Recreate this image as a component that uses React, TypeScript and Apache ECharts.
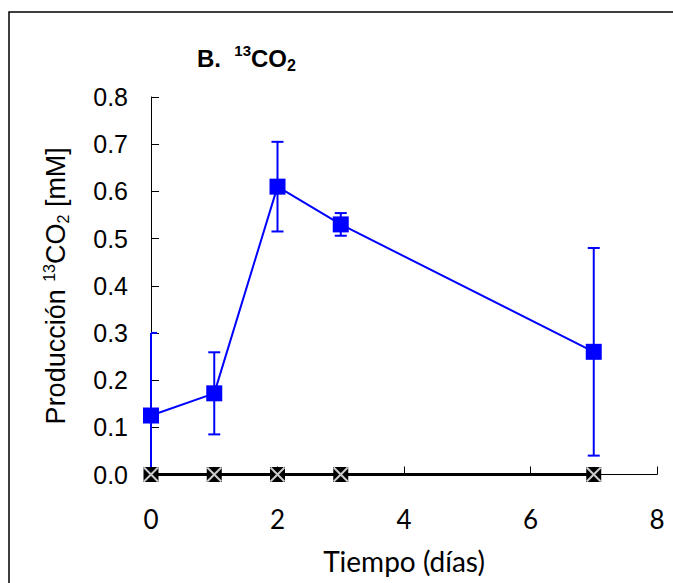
import React, { useEffect, useRef } from "react";
import * as echarts from "echarts";

const days = [0, 1, 2, 3, 7];
const co2Production = [0.125, 0.172, 0.61, 0.53, 0.26];
const co2Error = [0.175, 0.087, 0.095, 0.024, 0.22];
const control = [0, 0, 0, 0, 0];

const BLUE = "#0000FF";
const ARIAL = "'Liberation Sans', Arial, sans-serif";
const CALIBRI = "Lato, 'Open Sans', sans-serif";

export default function App() {
  const ref = useRef<HTMLDivElement>(null);
  useEffect(() => {
    if (!ref.current) return;
    const chart = echarts.init(ref.current, null, { renderer: "svg" });
    const errData = days.map((d, i) => [d, co2Production[i], co2Error[i]]);
    const option: any = {
      animation: false,
      backgroundColor: "#ffffff",
      graphic: [
        {
          type: "rect",
          shape: { x: 9, y: 12, width: 720, height: 640 },
          style: { fill: "none", stroke: "#000", lineWidth: 1.5 },
          silent: true,
        },
        {
          type: "text",
          x: 197,
          y: 43,
          silent: true,
          style: {
            text: "{b|B.  }{sup|13}{b|CO}{sub|2}",
            fontFamily: ARIAL,
            fontWeight: "bold",
            fontSize: 24,
            fill: "#000",
            verticalAlign: "top",
            align: "left",
            rich: {
              b: { fontFamily: ARIAL, fontWeight: "bold", fontSize: 24, lineHeight: 30, fill: "#000" },
              sup: { fontFamily: ARIAL, fontWeight: "bold", fontSize: 15, lineHeight: 20, verticalAlign: "top", fill: "#000" },
              sub: { fontFamily: ARIAL, fontWeight: "bold", fontSize: 16, lineHeight: 19, verticalAlign: "bottom", fill: "#000" },
            },
          },
        },
      ],
      grid: {
        left: 151,
        right: 16,
        top: 97,
        bottom: 108.5,
        containLabel: false,
        outerBoundsMode: "none",
      },
      xAxis: {
        type: "value",
        min: 0,
        max: 8,
        interval: 2,
        name: "Tiempo (días)",
        nameLocation: "middle",
        nameGap: 72,
        nameMoveOverlap: false,
        nameTextStyle: { fontFamily: CALIBRI, fontSize: 28, color: "#000" },
        axisLine: { show: true, onZero: false, lineStyle: { color: "#000", width: 1 } },
        axisTick: { show: true, inside: true, length: 8, lineStyle: { color: "#000", width: 1 } },
        axisLabel: { fontFamily: CALIBRI, fontSize: 26, color: "#000", margin: 31 },
        splitLine: { show: false },
      },
      yAxis: {
        type: "value",
        min: 0,
        max: 0.8,
        interval: 0.1,
        name: "{n|Producción }{sup|13}{n|CO}{sub|2}{n| [mM]}",
        nameLocation: "middle",
        nameRotate: 90,
        nameGap: 80,
        nameMoveOverlap: false,
        nameTextStyle: {
          fontFamily: ARIAL,
          fontSize: 27,
          color: "#000",
          rich: {
            n: { fontFamily: ARIAL, fontSize: 27, lineHeight: 30, color: "#000" },
            sup: { fontFamily: ARIAL, fontSize: 16, lineHeight: 22, verticalAlign: "top", color: "#000" },
            sub: { fontFamily: ARIAL, fontSize: 16, lineHeight: 18, verticalAlign: "bottom", color: "#000" },
          },
        },
        axisLine: { show: true, onZero: false, lineStyle: { color: "#000", width: 1 } },
        axisTick: { show: true, inside: true, length: 8, lineStyle: { color: "#000", width: 1 } },
        axisLabel: {
          fontFamily: ARIAL,
          fontSize: 25,
          color: "#000",
          margin: 23,
          formatter: (v: number) => v.toFixed(1),
        },
        splitLine: { show: false },
      },
      series: [
        {
          type: "custom",
          name: "error",
          clip: false,
          z: 10,
          data: errData,
          encode: { x: 0, y: 1 },
          renderItem: (params: any, api: any) => {
            const x = api.value(0);
            const y = api.value(1);
            const e = api.value(2);
            const origin = api.coord([0, 0]);
            const top = api.coord([x, y + e]);
            const lowVal = y - e;
            const bot = api.coord([x, Math.max(lowVal, 0)]);
            const half = 6;
            const style = { stroke: BLUE, lineWidth: 2 };
            const children: any[] = [
              { type: "line", shape: { x1: top[0], y1: top[1], x2: bot[0], y2: bot[1] }, style },
              {
                type: "line",
                shape: { x1: Math.max(top[0] - half, origin[0]), y1: top[1], x2: top[0] + half, y2: top[1] },
                style,
              },
            ];
            if (lowVal >= 0) {
              children.push({
                type: "line",
                shape: { x1: Math.max(bot[0] - half, origin[0]), y1: bot[1], x2: bot[0] + half, y2: bot[1] },
                style,
              });
            }
            return { type: "group", children };
          },
        },
        {
          type: "line",
          name: "13CO2",
          z: 11,
          clip: false,
          data: days.map((d, i) => [d, co2Production[i]]),
          symbol: "rect",
          symbolSize: 16,
          lineStyle: { color: BLUE, width: 2 },
          itemStyle: { color: BLUE },
        },
        {
          type: "line",
          name: "control",
          z: 12,
          clip: false,
          data: days.map((d, i) => [d, control[i]]),
          symbol: "rect",
          symbolSize: 15,
          lineStyle: { color: "#000", width: 3 },
          itemStyle: { color: "#000" },
        },
        {
          type: "scatter",
          name: "controlX",
          z: 13,
          clip: false,
          silent: true,
          data: days.map((d, i) => [d, control[i]]),
          symbol: "path://M0,0L10,10M10,0L0,10",
          symbolSize: 14,
          itemStyle: { color: "transparent", borderColor: "#fff", borderWidth: 2 },
        },
      ],
    };
    chart.setOption(option);
    return () => chart.dispose();
  }, []);
  return (
    <div
      ref={ref}
      style={{ position: "absolute", left: 0, top: 0, width: 673, height: 583 }}
    />
  );
}
